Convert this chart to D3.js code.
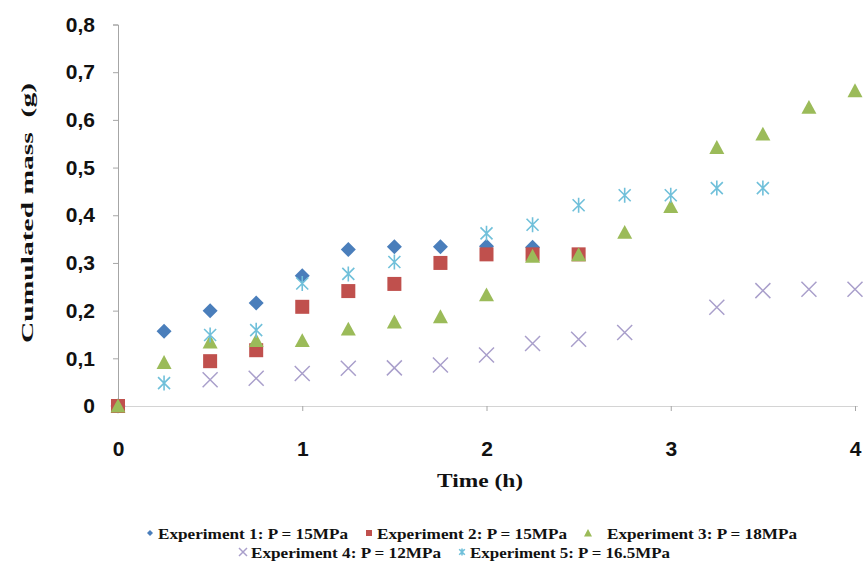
<!DOCTYPE html>
<meta charset="utf-8">
<style>
body { margin: 0; background: #fff; }
.tick text { font-family: "Liberation Sans", Arial, sans-serif; font-weight: bold; font-size: 21px; fill: #111; }
.axis-title, .legend text { font-family: "Liberation Serif", "Times New Roman", serif; font-weight: bold; fill: #111; }
</style>
<body>
<script src="https://cdn.jsdelivr.net/npm/d3@7"></script>
<script>
// values
var exp1Time = [0, 0.25, 0.5, 0.75, 1, 1.25, 1.5, 1.75, 2, 2.25];
var exp1Mass = [0, 0.157, 0.200, 0.216, 0.273, 0.328, 0.334, 0.334, 0.335, 0.333];

var exp2Time = [0, 0.5, 0.75, 1, 1.25, 1.5, 1.75, 2, 2.25, 2.5];
var exp2Mass = [0, 0.094, 0.117, 0.208, 0.241, 0.256, 0.300, 0.318, 0.318, 0.318];

var exp3Time = [0, 0.25, 0.5, 0.75, 1, 1.25, 1.5, 1.75, 2, 2.25, 2.5, 2.75, 3, 3.25, 3.5, 3.75, 4];
var exp3Mass = [0, 0.091, 0.134, 0.137, 0.137, 0.161, 0.176, 0.187, 0.233, 0.314, 0.317, 0.364, 0.418, 0.542, 0.570, 0.626, 0.661];

var exp4Time = [0.5, 0.75, 1, 1.25, 1.5, 1.75, 2, 2.25, 2.5, 2.75, 3.25, 3.5, 3.75, 4];
var exp4Mass = [0.055, 0.058, 0.068, 0.079, 0.080, 0.086, 0.107, 0.131, 0.140, 0.154, 0.207, 0.242, 0.245, 0.245];

var exp5Time = [0.25, 0.5, 0.75, 1, 1.25, 1.5, 2, 2.25, 2.5, 2.75, 3, 3.25, 3.5];
var exp5Mass = [0.048, 0.149, 0.159, 0.257, 0.277, 0.302, 0.362, 0.380, 0.421, 0.442, 0.442, 0.457, 0.457];

var seriesNames = ["Experiment 1: P = 15MPa", "Experiment 2: P = 15MPa", "Experiment 3: P = 18MPa",
                   "Experiment 4: P = 12MPa", "Experiment 5: P = 16.5MPa"];
var xTicks = [0, 1, 2, 3, 4];
var yTicks = [0, 0.1, 0.2, 0.3, 0.4, 0.5, 0.6, 0.7, 0.8];

var series = [
  {name: seriesNames[0], time: exp1Time, mass: exp1Mass, shape: "diamond",  color: "#4a7ebb"},
  {name: seriesNames[1], time: exp2Time, mass: exp2Mass, shape: "square",   color: "#c0504d"},
  {name: seriesNames[2], time: exp3Time, mass: exp3Mass, shape: "triangle", color: "#9bbb59"},
  {name: seriesNames[3], time: exp4Time, mass: exp4Mass, shape: "cross",    color: "#a99fcb"},
  {name: seriesNames[4], time: exp5Time, mass: exp5Mass, shape: "star",     color: "#70c0da"}
];

var width = 867, height = 562;

var svg = d3.select("body").append("svg")
  .attr("width", width)
  .attr("height", height);

var x = d3.scaleLinear().domain([0, 4]).range([118, 855]);
var y = d3.scaleLinear().domain([0, 0.8]).range([406, 24.5]);

var fmt = function(d) { return d === 0 ? "0" : d3.format(".1f")(d).replace(".", ","); };

// y axis
var gy = svg.append("g")
  .attr("transform", "translate(" + x(0) + ",0)")
  .call(d3.axisLeft(y).tickValues(yTicks).tickFormat(fmt).tickSize(5).tickPadding(18));
gy.select(".domain").attr("stroke", "#a6a6a6");
gy.selectAll(".tick line").attr("stroke", "#a6a6a6");

// x axis
var gx = svg.append("g")
  .attr("transform", "translate(0," + y(0) + ")")
  .call(d3.axisBottom(x).tickValues(xTicks).tickFormat(d3.format("d")).tickSize(5).tickPadding(30));
gx.select(".domain").attr("stroke", "#d4d4d4").attr("d", "M" + x(0) + ",0.5H" + (x(4) + 3));
gx.selectAll(".tick line").attr("stroke", "#a6a6a6");

// axis titles
svg.append("text")
  .attr("class", "axis-title")
  .attr("transform", "translate(33," + 213 + ") rotate(-90)")
  .attr("text-anchor", "middle")
  .style("white-space", "pre")
  .attr("font-size", 17)
  .attr("textLength", 260)
  .attr("lengthAdjust", "spacingAndGlyphs")
  .text("Cumulated mass  (g)");

svg.append("text")
  .attr("class", "axis-title")
  .attr("x", 480)
  .attr("y", 487)
  .attr("text-anchor", "middle")
  .attr("font-size", 18)
  .attr("textLength", 86)
  .attr("lengthAdjust", "spacingAndGlyphs")
  .text("Time (h)");

// marker drawing
function drawMarker(g, shape, color, s) {
  var h = s / 2;
  if (shape === "diamond") {
    g.append("path").attr("d", "M0," + (-h) + "L" + h + ",0L0," + h + "L" + (-h) + ",0Z").attr("fill", color);
  } else if (shape === "square") {
    g.append("rect").attr("x", -h).attr("y", -h).attr("width", s).attr("height", s).attr("fill", color);
  } else if (shape === "triangle") {
    g.append("path").attr("d", "M0," + (-h) + "L" + h + "," + (h * 0.85) + "L" + (-h) + "," + (h * 0.85) + "Z").attr("fill", color);
  } else if (shape === "cross") {
    g.append("path").attr("d", "M" + (-h) + "," + (-h) + "L" + h + "," + h + "M" + (-h) + "," + h + "L" + h + "," + (-h))
      .attr("stroke", color).attr("stroke-width", 1.5).attr("fill", "none");
  } else if (shape === "star") {
    var d = h * 0.8;
    g.append("path").attr("d", "M0," + (-h) + "V" + h + "M" + (-d) + "," + (-d) + "L" + d + "," + d + "M" + (-d) + "," + d + "L" + d + "," + (-d))
      .attr("stroke", color).attr("stroke-width", 1.6).attr("fill", "none");
  }
}

var sizes = {diamond: 15, square: 14, triangle: 15, cross: 15, star: 15};

series.forEach(function(s) {
  var pts = s.time.map(function(t, i) { return [t, s.mass[i]]; });
  svg.append("g").selectAll("g")
    .data(pts)
    .enter().append("g")
    .attr("transform", function(d) { return "translate(" + x(d[0]) + "," + y(d[1]) + ")"; })
    .each(function() { drawMarker(d3.select(this), s.shape, s.color, sizes[s.shape]); });
});

// legend: two rows, equal column width
var legend = svg.append("g").attr("class", "legend");
var colW = 219;
var rows = [{x0: 150, y: 539, items: [0, 1, 2]}, {x0: 243, y: 558, items: [3, 4]}];
var legendSizes = {diamond: 6, square: 6, triangle: 8, cross: 8, star: 7};
rows.forEach(function(r) {
  r.items.forEach(function(idx, j) {
    var s = series[idx];
    var g = legend.append("g").attr("transform", "translate(" + (r.x0 + j * colW) + "," + r.y + ")");
    drawMarker(g.append("g").attr("transform", "translate(0,-6)"), s.shape, s.color, legendSizes[s.shape]);
    var off = idx === 2 ? 19 : 8;
    g.append("text")
      .attr("x", off)
      .attr("font-size", 15)
      .attr("textLength", idx === 4 ? 200 : 190)
      .attr("lengthAdjust", "spacingAndGlyphs")
      .text(s.name);
  });
});
</script>
</body>
